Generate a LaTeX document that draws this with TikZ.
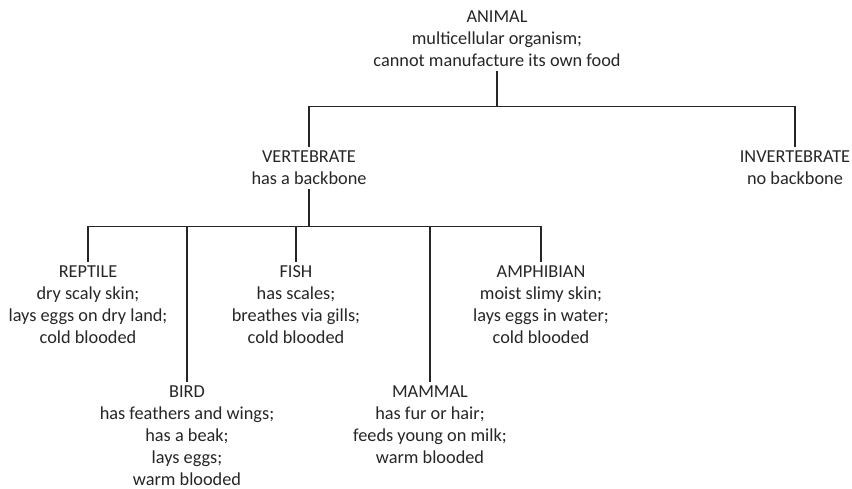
\documentclass[tikz,border=0pt]{standalone}
\usepackage{fontspec}
\setmainfont{Carlito}
\begin{document}
\begin{tikzpicture}[x=1pt,y=-1pt,
  lbl/.style={align=center,inner xsep=0pt,inner ysep=4pt,text=black!85,font=\fontsize{18.3}{22}\selectfont},
  conn/.style={draw=black!85,line width=1.3pt}]
\useasboundingbox (0,0) rectangle (852,489);
\node[lbl] (animal) at (497,39) {ANIMAL\\multicellular organism;\\cannot manufacture its own food};
\node[lbl] (vert) at (309,168) {VERTEBRATE\\has a backbone};
\node[lbl] (invert) at (795,168) {INVERTEBRATE\\no backbone};
\node[lbl] (reptile) at (88,305) {REPTILE\\dry scaly skin;\\lays eggs on dry land;\\cold blooded};
\node[lbl] (fish) at (296,305) {FISH\\has scales;\\breathes via gills;\\cold blooded};
\node[lbl] (amph) at (541,305) {AMPHIBIAN\\moist slimy skin;\\lays eggs in water;\\cold blooded};
\node[lbl] (bird) at (187,436) {BIRD\\has feathers and wings;\\has a beak;\\lays eggs;\\warm blooded};
\node[lbl] (mammal) at (430,425) {MAMMAL\\has fur or hair;\\feeds young on milk;\\warm blooded};
\coordinate (bus1) at (497,106.7);
\coordinate (bus2) at (309,226.7);
\draw[conn] (animal) -- (bus1);
\draw[conn] (vert) |- (bus1) -| (invert);
\draw[conn] (vert) -- (bus2);
\draw[conn] (reptile) |- (bus2) -| (amph);
\draw[conn] (bird) -- (bird|-bus2);
\draw[conn] (fish) -- (fish|-bus2);
\draw[conn] (mammal) -- (mammal|-bus2);
\end{tikzpicture}
\end{document}
